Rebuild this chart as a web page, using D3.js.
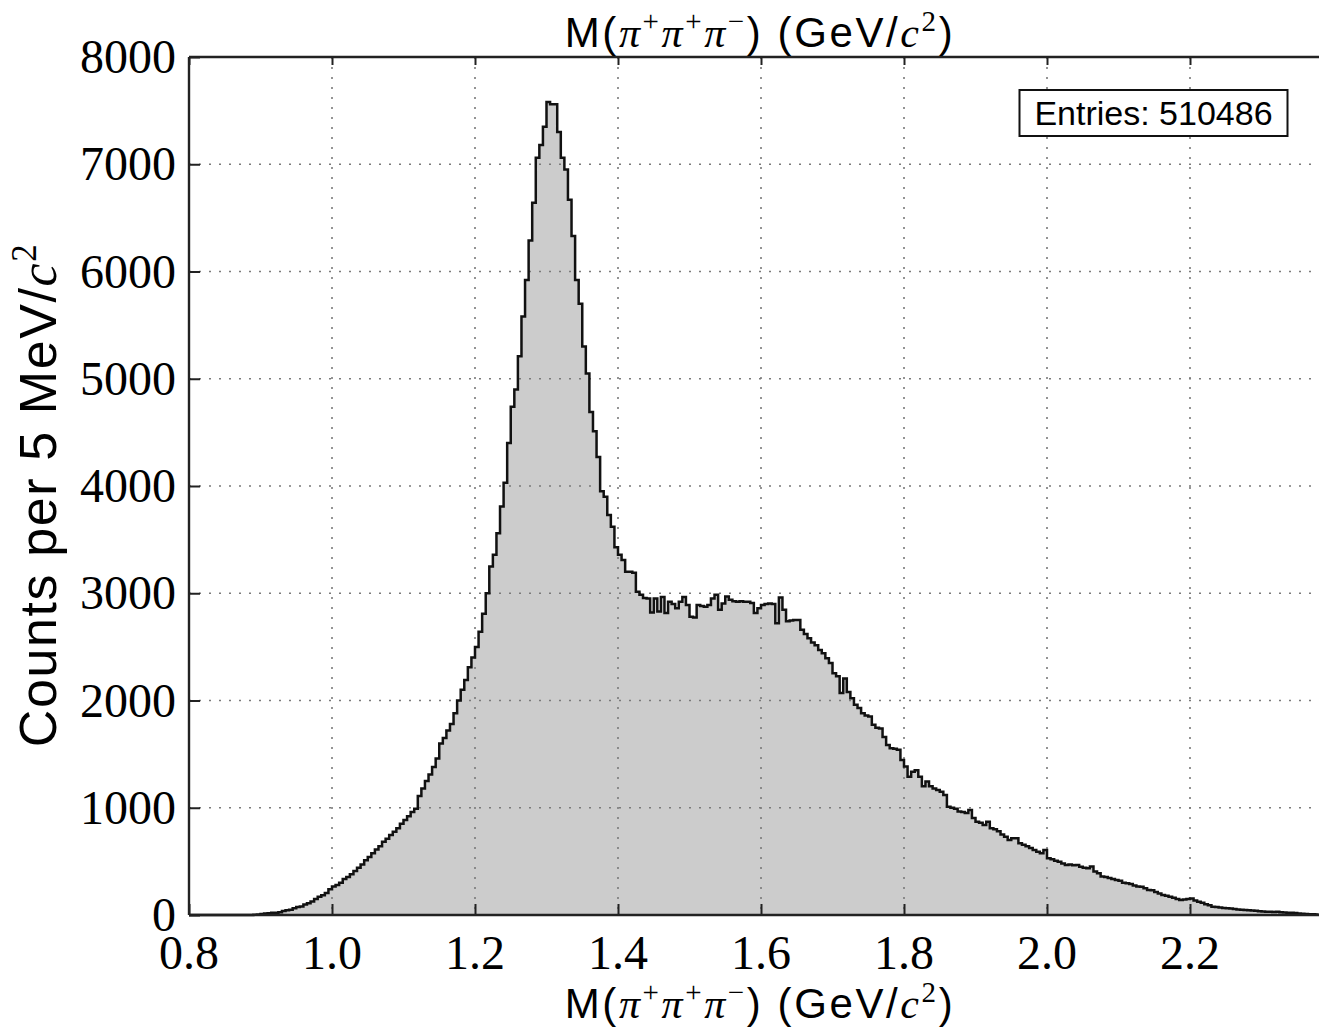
<!DOCTYPE html>
<html>
<head>
<meta charset="utf-8">
<script src="https://cdn.jsdelivr.net/npm/d3@7"></script>
<style>
  html, body { margin: 0; padding: 0; background: #fff; }
  svg { display: block; }
</style>
</head>
<body>
<svg id="chart" width="1319" height="1030"></svg>
<script>
// ---- data ----
const binStart = 0.8;      // GeV/c^2
const binWidth = 0.005;    // 5 MeV/c^2
const counts = [
  0,0,0,0,0,0,0,0,0,0, 0,0,0,0,0,0,0,1,3,5,
  10,14,16,20,22,25,38,45,50,62, 75,80,98,110,125,150,170,185,205,240,
  265,280,300,335,355,380,410,440,470,510, 540,576,610,640,684,710,745,777,810,850,
  886,920,960,990,1110,1180,1250,1310,1380,1460, 1600,1650,1720,1780,1880,2000,2100,2190,2310,2400,
  2500,2640,2810,3000,3250,3360,3560,3810,4030,4400, 4740,4900,5210,5580,5920,6290,6640,7060,7180,7350,
  7580,7560,7560,7300,7060,6950,6670,6330,5920,5700, 5300,5050,4690,4510,4270,3950,3900,3730,3620,3430,
  3360,3310,3200,3200,3190,3015,2985,2955,2950,2820, 2950,2830,2965,2815,2920,2900,2860,2920,2965,2890,
  2780,2775,2890,2880,2875,2890,2950,2985,2845,2905, 2970,2940,2925,2920,2925,2920,2920,2910,2815,2860,
  2890,2900,2905,2900,2720,2960,2845,2740,2745,2750, 2750,2660,2620,2580,2540,2515,2470,2440,2395,2350,
  2255,2225,2070,2205,2080,2020,1960,1930,1880,1860, 1850,1775,1745,1740,1660,1585,1555,1550,1540,1445,
  1385,1290,1335,1350,1290,1200,1245,1200,1180,1165, 1150,1120,1010,1000,990,965,960,950,980,905,
  870,860,840,870,810,800,780,750,730,700, 715,715,670,655,640,625,605,590,575,606,
  530,520,505,497,480,466,470,465,466,450, 440,435,452,405,390,360,355,345,335,326,
  320,300,295,290,275,265,264,250,233,230, 215,200,186,180,170,160,150,140,145,150,
  155,135,124,115,100,90,77,75,70,65, 62,60,55,52,50,47,45,42,40,35,
  33,31,30,28,30,25,24,22,22,18, 15,12,10,8,7,5
];
const xTicks = [0.8, 1.0, 1.2, 1.4, 1.6, 1.8, 2.0, 2.2];
const yTicks = [0, 1000, 2000, 3000, 4000, 5000, 6000, 7000, 8000];
const entriesLabel = "Entries: 510486";

// ---- layout ----
const svg = d3.select("#chart");
const pL = 189, pR = 1318.7, pT = 57, pB = 915;
const xEnd = binStart + counts.length * binWidth;
const x = d3.scaleLinear().domain([binStart, xEnd]).range([pL, pR]);
const y = d3.scaleLinear().domain([0, 8000]).range([pB, pT]);

const pts = counts.map((c, i) => [binStart + i * binWidth, c]);
pts.push([xEnd, counts[counts.length - 1]]);

// histogram fill
svg.append("path")
  .datum(pts)
  .attr("d", d3.area().curve(d3.curveStepAfter)
    .x(d => x(d[0])).y0(y(0)).y1(d => y(d[1])))
  .attr("fill", "#cccccc");

// grid (dotted, on top of fill)
const grid = svg.append("g").attr("stroke", "#7a7a7a").attr("stroke-width", 1.6)
  .attr("stroke-dasharray", "2,8");
xTicks.filter(t => t > binStart).forEach(t => {
  grid.append("line").attr("x1", x(t)).attr("x2", x(t)).attr("y1", pT).attr("y2", pB);
});
yTicks.filter(t => t > 0 && t < 8000).forEach(t => {
  grid.append("line").attr("x1", pL).attr("x2", 1330).attr("y1", y(t)).attr("y2", y(t));
});

// histogram outline
svg.append("path")
  .datum(pts)
  .attr("d", d3.line().curve(d3.curveStepAfter).x(d => x(d[0])).y(d => y(d[1])))
  .attr("fill", "none").attr("stroke", "#111").attr("stroke-width", 2.5);

// axes using d3 axis generators (inward ticks)
const serif = "'Liberation Serif', 'DejaVu Serif', serif";
const xAxisB = svg.append("g").attr("transform", `translate(0,${pB})`)
  .call(d3.axisTop(x).tickValues(xTicks).tickSize(11).tickFormat(""));
xAxisB.select(".domain").remove();
const xAxisT = svg.append("g").attr("transform", `translate(0,${pT})`)
  .call(d3.axisBottom(x).tickValues(xTicks).tickSize(8).tickFormat(""));
xAxisT.select(".domain").remove();
const yAxisL = svg.append("g").attr("transform", `translate(${pL},0)`)
  .call(d3.axisRight(y).tickValues(yTicks).tickSize(11).tickFormat(""));
yAxisL.select(".domain").remove();
svg.selectAll(".tick line").attr("stroke", "#222").attr("stroke-width", 2);

// frame
const frame = svg.append("g").attr("stroke", "#222").attr("stroke-width", 2.4).attr("fill", "none");
frame.append("line").attr("x1", pL).attr("x2", 1330).attr("y1", pT).attr("y2", pT);
frame.append("line").attr("x1", pL).attr("x2", 1330).attr("y1", pB).attr("y2", pB);
frame.append("line").attr("x1", pL).attr("x2", pL).attr("y1", pT).attr("y2", pB);

// tick labels
svg.append("g").selectAll("text").data(xTicks).join("text")
  .attr("x", d => x(d)).attr("y", 969)
  .attr("text-anchor", "middle")
  .attr("font-family", serif).attr("font-size", 48).attr("fill", "#000")
  .text(d => d3.format(".1f")(d));
svg.append("g").selectAll("text").data(yTicks).join("text")
  .attr("x", 176).attr("y", d => y(d) + 16)
  .attr("text-anchor", "end")
  .attr("font-family", serif).attr("font-size", 48).attr("fill", "#000")
  .text(d => d);

// titles
const sans = "'Liberation Sans', Arial, Helvetica, sans-serif";
function massLabel(sel, fs) {
  const up = Math.round(fs * 0.38), sup = Math.round(fs * 0.68);
  sel.append("tspan").text("M(");
  const parts = [["π", "+"], ["π", "+"], ["π", "−"]];
  parts.forEach(([p, c], i) => {
    const t = sel.append("tspan").attr("font-family", serif).attr("font-style", "italic").text(p);
    if (i > 0) t.attr("dy", up);
    sel.append("tspan").attr("font-family", serif).attr("font-size", sup).attr("dy", -up).text(c);
  });
  sel.append("tspan").attr("dy", up).text(") (GeV/");
  sel.append("tspan").attr("font-family", serif).attr("font-style", "italic").text("c");
  sel.append("tspan").attr("font-family", serif).attr("font-size", sup).attr("dy", -up).text("2");
  sel.append("tspan").attr("dy", up).text(")");
}
const title = svg.append("text").attr("x", 760).attr("y", 47)
  .attr("text-anchor", "middle").attr("font-family", sans).attr("font-size", 42)
  .attr("letter-spacing", 2.6).attr("fill", "#000");
massLabel(title, 42);
const xlab = svg.append("text").attr("x", 760).attr("y", 1018)
  .attr("text-anchor", "middle").attr("font-family", sans).attr("font-size", 42)
  .attr("letter-spacing", 2.6).attr("fill", "#000");
massLabel(xlab, 42);

const ylab = svg.append("text")
  .attr("transform", "translate(56,495) rotate(-90)")
  .attr("text-anchor", "middle").attr("font-family", sans).attr("font-size", 52)
  .attr("letter-spacing", 1.6).attr("fill", "#000");
ylab.append("tspan").text("Counts per 5 MeV/");
ylab.append("tspan").attr("font-family", serif).attr("font-style", "italic").text("c");
ylab.append("tspan").attr("font-family", serif).attr("font-size", 35).attr("dy", -20).text("2");

// entries box
svg.append("rect").attr("x", 1019.5).attr("y", 90).attr("width", 268).attr("height", 46)
  .attr("fill", "#fff").attr("stroke", "#111").attr("stroke-width", 2);
svg.append("text").attr("x", 1153.5).attr("y", 125).attr("text-anchor", "middle")
  .attr("font-family", sans).attr("font-size", 34).attr("fill", "#000").text(entriesLabel);
</script>
</body>
</html>
